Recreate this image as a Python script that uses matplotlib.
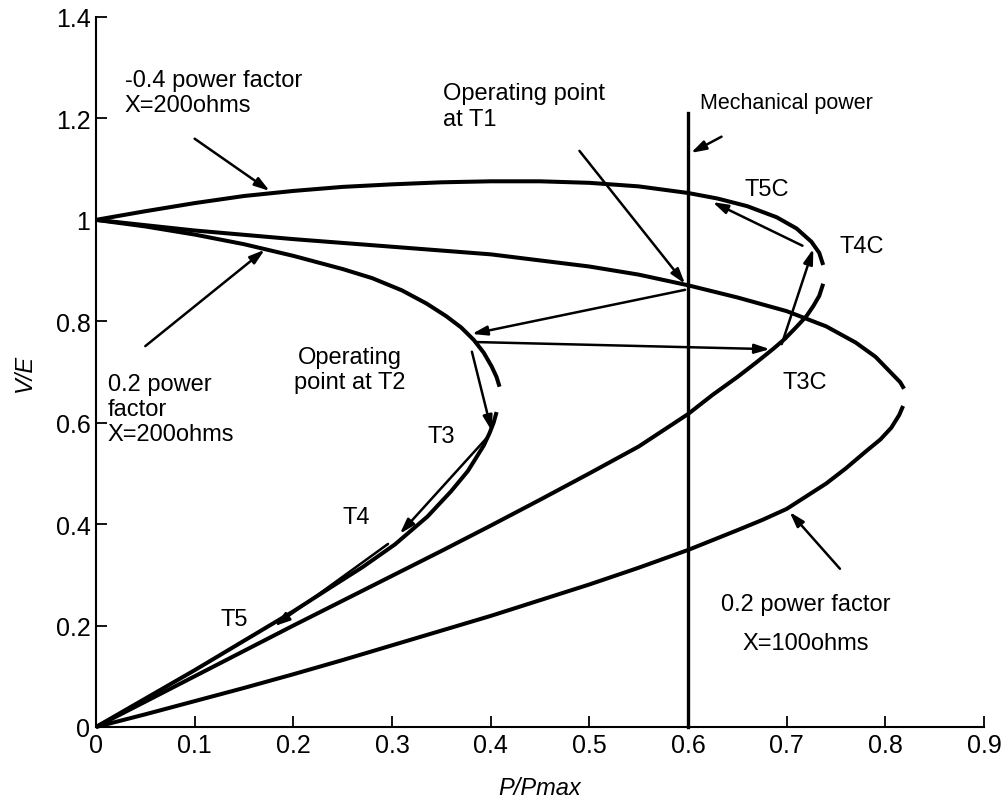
import matplotlib
matplotlib.use("Agg")
import matplotlib.pyplot as plt

plt.rcParams['font.family'] = ['Liberation Sans', 'DejaVu Sans']

# -0.4 power factor, X = 200 ohms
pfm04_upper_p = [0.0, 0.05, 0.1, 0.15, 0.2, 0.25, 0.3, 0.35, 0.4, 0.45, 0.5, 0.55, 0.6,
                 0.63, 0.66, 0.69, 0.71, 0.725, 0.733, 0.737]
pfm04_upper_v = [1.0, 1.017, 1.033, 1.047, 1.057, 1.065, 1.070, 1.074, 1.076, 1.076, 1.073,
                 1.066, 1.053, 1.042, 1.027, 1.005, 0.983, 0.957, 0.935, 0.911]
pfm04_lower_p = [0.737, 0.733, 0.727, 0.72, 0.71, 0.698, 0.686, 0.67, 0.65, 0.625, 0.6,
                 0.55, 0.5, 0.45, 0.4, 0.35, 0.3, 0.25, 0.2, 0.15, 0.1, 0.05, 0.0]
pfm04_lower_v = [0.874, 0.85, 0.83, 0.81, 0.789, 0.765, 0.745, 0.72, 0.69, 0.655, 0.617,
                 0.553, 0.5, 0.448, 0.397, 0.347, 0.298, 0.249, 0.2, 0.15, 0.1, 0.05, 0.0]

# 0.2 power factor, X = 200 ohms
pf02_x200_upper_p = [0.0, 0.05, 0.1, 0.15, 0.2, 0.25, 0.28, 0.31, 0.335, 0.355, 0.37,
                     0.383, 0.393, 0.401, 0.406, 0.409]
pf02_x200_upper_v = [1.0, 0.987, 0.971, 0.952, 0.929, 0.903, 0.885, 0.861, 0.835, 0.81,
                     0.788, 0.763, 0.738, 0.711, 0.69, 0.671]
pf02_x200_lower_p = [0.406, 0.403, 0.399, 0.393, 0.385, 0.377, 0.36, 0.336, 0.303, 0.27,
                     0.24, 0.2, 0.15, 0.1, 0.05, 0.0]
pf02_x200_lower_v = [0.621, 0.6, 0.58, 0.555, 0.53, 0.505, 0.465, 0.415, 0.36, 0.315,
                     0.278, 0.228, 0.17, 0.112, 0.056, 0.0]

# 0.2 power factor, X = 100 ohms
pf02_x100_upper_p = [0.0, 0.1, 0.2, 0.3, 0.4, 0.5, 0.55, 0.6, 0.65, 0.7, 0.74, 0.77,
                     0.79, 0.805, 0.815, 0.819]
pf02_x100_upper_v = [1.0, 0.979, 0.962, 0.947, 0.932, 0.908, 0.892, 0.871, 0.847, 0.82,
                     0.79, 0.758, 0.73, 0.70, 0.68, 0.667]
pf02_x100_lower_p = [0.818, 0.814, 0.806, 0.795, 0.78, 0.76, 0.74, 0.72, 0.7, 0.675, 0.65,
                     0.6, 0.55, 0.5, 0.45, 0.4, 0.35, 0.3, 0.25, 0.2, 0.15, 0.1, 0.05, 0.0]
pf02_x100_lower_v = [0.633, 0.615, 0.59, 0.567, 0.543, 0.51, 0.48, 0.455, 0.43, 0.408,
                     0.388, 0.349, 0.314, 0.281, 0.25, 0.219, 0.19, 0.161, 0.132, 0.104,
                     0.077, 0.051, 0.025, 0.0]

# mechanical power level
mech_power = 0.6
mech_v = [0.0, 1.21]

x_ticks = [0.0, 0.1, 0.2, 0.3, 0.4, 0.5, 0.6, 0.7, 0.8, 0.9]
x_ticklabels = ['0', '0.1', '0.2', '0.3', '0.4', '0.5', '0.6', '0.7', '0.8', '0.9']
y_ticks = [0.0, 0.2, 0.4, 0.6, 0.8, 1.0, 1.2, 1.4]
y_ticklabels = ['0', '0.2', '0.4', '0.6', '0.8', '1', '1.2', '1.4']

fig = plt.figure(figsize=(10.08, 8.03), dpi=100)
ax = fig.add_axes([0.0952, 0.0934, 0.8810, 0.8842])

curve_kw = dict(color='black', lw=2.9, solid_capstyle='butt', solid_joinstyle='round',
                clip_on=False)
for p, v in [(pfm04_upper_p, pfm04_upper_v), (pfm04_lower_p, pfm04_lower_v),
             (pf02_x200_upper_p, pf02_x200_upper_v), (pf02_x200_lower_p, pf02_x200_lower_v),
             (pf02_x100_upper_p, pf02_x100_upper_v), (pf02_x100_lower_p, pf02_x100_lower_v)]:
    ax.plot(p, v, **curve_kw)

ax.plot([mech_power, mech_power], mech_v, color='black', lw=2.4, clip_on=False)

ax.set_xlim(0, 0.9)
ax.set_ylim(0, 1.4)
ax.set_xticks(x_ticks)
ax.set_xticklabels(x_ticklabels)
ax.set_yticks(y_ticks)
ax.set_yticklabels(y_ticklabels)
ax.tick_params(direction='in', length=8, width=1.3, labelsize=18, pad=4)
for s in ['top', 'right']:
    ax.spines[s].set_visible(False)
for s in ['left', 'bottom']:
    ax.spines[s].set_linewidth(1.5)

ax.set_xlabel('P/Pmax', fontsize=17, style='italic', labelpad=14)
ax.set_ylabel('V/E', fontsize=17, style='italic', labelpad=14)

# (tail, head) of each pointer arrow
arrows = [
    ((0.100, 1.160), (0.176, 1.057)),
    ((0.050, 0.751), (0.171, 0.941)),
    ((0.490, 1.136), (0.597, 0.874)),
    ((0.634, 1.164), (0.603, 1.132)),
    ((0.597, 0.862), (0.381, 0.775)),
    ((0.386, 0.759), (0.683, 0.745)),
    ((0.381, 0.740), (0.401, 0.584)),
    ((0.397, 0.572), (0.308, 0.381)),
    ((0.296, 0.361), (0.181, 0.199)),
    ((0.695, 0.755), (0.727, 0.943)),
    ((0.716, 0.949), (0.625, 1.035)),
    ((0.754, 0.312), (0.703, 0.424)),
]
for tail, head in arrows:
    ax.annotate('', xy=head, xytext=tail,
                arrowprops=dict(arrowstyle='-|>,head_length=0.9,head_width=0.28',
                                color='black', lw=1.8, shrinkA=0, shrinkB=0),
                annotation_clip=False)

fs = 17
ax.text(0.029, 1.251, '-0.4 power factor\nX=200ohms', fontsize=fs, ha='left', va='center',
        linespacing=1.2)
ax.text(0.012, 0.627, '0.2 power\nfactor\nX=200ohms', fontsize=fs, ha='left', va='center',
        linespacing=1.2)
ax.text(0.352, 1.225, 'Operating point\nat T1', fontsize=fs, ha='left', va='center',
        linespacing=1.25)
ax.text(0.612, 1.231, 'Mechanical power', fontsize=fs - 1.5, ha='left', va='center')
ax.text(0.257, 0.705, 'Operating\npoint at T2', fontsize=fs, ha='center', va='center',
        linespacing=1.15)
ax.text(0.719, 0.204, '0.2 power factor\n\nX=100ohms', fontsize=fs, ha='center', va='center',
        linespacing=0.85)

label_fs = 17
ax.text(0.657, 1.061, 'T5C', fontsize=label_fs, ha='left', va='center')
ax.text(0.754, 0.949, 'T4C', fontsize=label_fs, ha='left', va='center')
ax.text(0.696, 0.680, 'T3C', fontsize=label_fs, ha='left', va='center')
ax.text(0.336, 0.574, 'T3', fontsize=label_fs, ha='left', va='center')
ax.text(0.250, 0.414, 'T4', fontsize=label_fs, ha='left', va='center')
ax.text(0.126, 0.213, 'T5', fontsize=label_fs, ha='left', va='center')

fig.savefig('out.png', dpi=100)
